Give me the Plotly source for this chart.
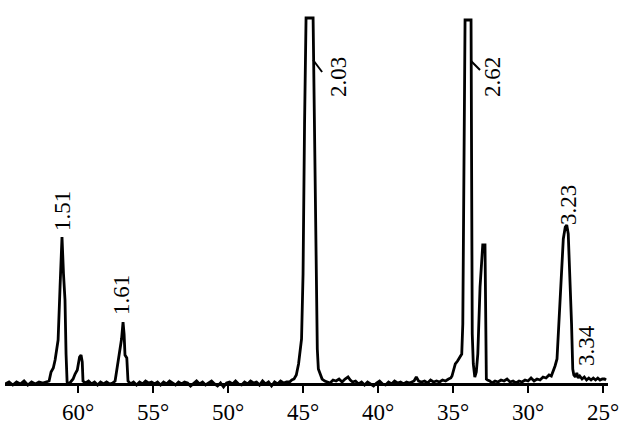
import plotly.graph_objects as go

two_theta = [
    64.85, 64.6, 64.35, 64.1, 63.85, 63.6, 63.35, 63.1, 62.85, 62.6, 62.35, 62.1,
    61.93, 61.8, 61.65, 61.53, 61.33, 61.2, 61.07, 60.97, 60.87, 60.8, 60.73, 60.6,
    60.45, 60.33, 60.2, 60.05, 59.9, 59.8, 59.72, 59.67, 59.5, 59.3, 59.1, 58.9,
    58.7, 58.5, 58.3, 58.1, 57.9, 57.7, 57.53, 57.4, 57.25, 57.1, 57.0, 56.93,
    56.87, 56.75, 56.67, 56.5, 56.3, 56.1, 55.9, 55.7, 55.5, 55.3, 55.1, 54.9,
    54.7, 54.5, 54.3, 54.1, 53.9, 53.7, 53.5, 53.3, 53.1, 52.9, 52.7, 52.5,
    52.3, 52.1, 51.9, 51.7, 51.5, 51.3, 51.1, 50.9, 50.7, 50.5, 50.3, 50.1,
    49.9, 49.7, 49.5, 49.3, 49.1, 48.9, 48.7, 48.5, 48.3, 48.1, 47.9, 47.7,
    47.5, 47.3, 47.1, 46.9, 46.7, 46.5, 46.3, 46.1, 45.9, 45.75, 45.6, 45.45,
    45.3, 45.1, 45.0, 44.9, 44.8, 44.33, 44.22, 44.13, 44.05, 43.98, 43.85, 43.73,
    43.55, 43.4, 43.2, 43.0, 42.8, 42.6, 42.4, 42.2, 42.0, 41.85, 41.7, 41.5,
    41.3, 41.1, 40.9, 40.7, 40.5, 40.3, 40.1, 39.9, 39.7, 39.5, 39.3, 39.1,
    38.9, 38.7, 38.5, 38.3, 38.1, 37.9, 37.6, 37.45, 37.3, 37.1, 36.9, 36.7,
    36.5, 36.3, 36.1, 35.9, 35.7, 35.5, 35.3, 35.15, 35.07, 34.95, 34.85, 34.7,
    34.55, 34.42, 34.35, 34.28, 34.2, 33.8, 33.76, 33.72, 33.65, 33.55, 33.45, 33.35,
    33.2, 33.02, 32.87, 32.82, 32.78, 32.7, 32.55, 32.4, 32.2, 32.0, 31.8, 31.6,
    31.4, 31.2, 31.0, 30.8, 30.6, 30.4, 30.2, 30.0, 29.8, 29.6, 29.4, 29.2,
    29.0, 28.8, 28.6, 28.45, 28.3, 28.2, 28.07, 27.95, 27.8, 27.65, 27.52, 27.42,
    27.32, 27.2, 27.1, 27.02, 26.95, 26.85, 26.75, 26.65, 26.55, 26.4, 26.25, 26.1,
    25.95, 25.8, 25.65, 25.5, 25.35, 25.2, 25.05, 24.9, 24.8,
]
intensity = [
    0, 2, -1, 2, 0, 3, -1, 2, 0, 2, 1, 2,
    3, 12, 16, 24, 44, 97, 147, 110, 84, 30, 2, 0,
    3, 5, 10, 14, 27, 29, 22, 3, 1, 3, 0, 2,
    -1, 2, 0, 2, 0, 1, 3, 17, 28, 45, 62, 50,
    29, 26, 3, 0, 2, -1, 2, 0, 3, 1, 2, 0,
    2, -1, 2, 0, 3, 1, -1, 2, 0, 2, 1, -2,
    1, 3, 0, 2, -1, 1, 3, 0, -2, 1, -3, 1,
    2, 0, 3, 0, -1, 2, 0, 3, 1, 2, -1, 3,
    0, 2, -2, 2, 0, 3, 1, 2, 2, 4, 5, 9,
    20, 45, 110, 260, 366, 366, 250, 104, 35, 15, 9, 5,
    3, 2, 1, 4, 3, 5, 2, 5, 7, 4, 2, 3,
    0, 2, -1, 2, 0, -2, 1, 3, 0, -1, 2, 0,
    3, 1, 2, 0, 2, 1, 3, 7, 3, 2, 3, 1,
    4, 2, 3, 2, 4, 3, 5, 6, 8, 14, 20, 23,
    27, 30, 60, 200, 364, 364, 200, 50, 20, 7, 12, 30,
    97, 139, 139, 60, 5, 4, 3, 1, 3, 2, 4, 3,
    5, 2, 3, 1, 3, 2, 4, 3, 6, 3, 5, 4,
    7, 6, 9, 8, 13, 18, 25, 60, 110, 145, 157, 159,
    150, 110, 60, 15, 9, 7, 11, 6, 8, 5, 7, 4,
    6, 4, 6, 4, 6, 4, 5, 5, 4,
]

# d-spacing labels (text, position in 2-theta / intensity units)
label_text = ["1.51", "1.61", "2.03", "2.62", "3.23", "3.34"]
label_x = [61.07, 57.13, 42.67, 32.4, 27.33, 26.13]
label_y = [173, 89, 307, 307, 179, 38]

# leader lines for 2.03 and 2.62
leader_x0 = [44.33, 33.8]
leader_y0 = [324, 323]
leader_x1 = [43.73, 33.2]
leader_y1 = [312, 314]

tick_vals = [60, 55, 50, 45, 40, 35, 30, 25]
tick_text = ["60°", "55°", "50°", "45°", "40°", "35°", "30°", "25°"]

FONT = "Times New Roman, Liberation Serif, DejaVu Serif, serif"

fig = go.Figure()
fig.add_trace(go.Scatter(
    x=two_theta, y=intensity, mode="lines",
    line=dict(color="black", width=2.8),
    hoverinfo="skip", showlegend=False,
))

for t, x, y in zip(label_text, label_x, label_y):
    fig.add_annotation(x=x, y=y, text=t, textangle=-90, showarrow=False,
                       font=dict(family=FONT, size=23, color="black"))

for x0, y0, x1, y1 in zip(leader_x0, leader_y0, leader_x1, leader_y1):
    fig.add_shape(type="line", x0=x0, y0=y0, x1=x1, y1=y1, xref="x", yref="y",
                  line=dict(color="black", width=2))

H = 424
b = 30
plot_h = H - b
fig.update_layout(
    width=640, height=424,
    margin=dict(l=5, r=32, t=0, b=b),
    paper_bgcolor="white", plot_bgcolor="white",
    font=dict(family=FONT, color="black"),
    xaxis=dict(
        range=[64.87, 24.67], showgrid=False, zeroline=False,
        anchor="free", position=10 / plot_h,
        showline=True, linecolor="black", linewidth=2.5,
        ticks="outside", ticklen=7, tickwidth=2, tickcolor="black",
        tickvals=tick_vals, ticktext=tick_text,
        tickfont=dict(family=FONT, size=23, color="black"),
    ),
    yaxis=dict(range=[-10, 384], visible=False, showgrid=False, zeroline=False),
)

fig.write_html("out.html", config={"displayModeBar": False},
               post_script="document.body.style.margin='0';document.body.style.overflow='hidden';")
